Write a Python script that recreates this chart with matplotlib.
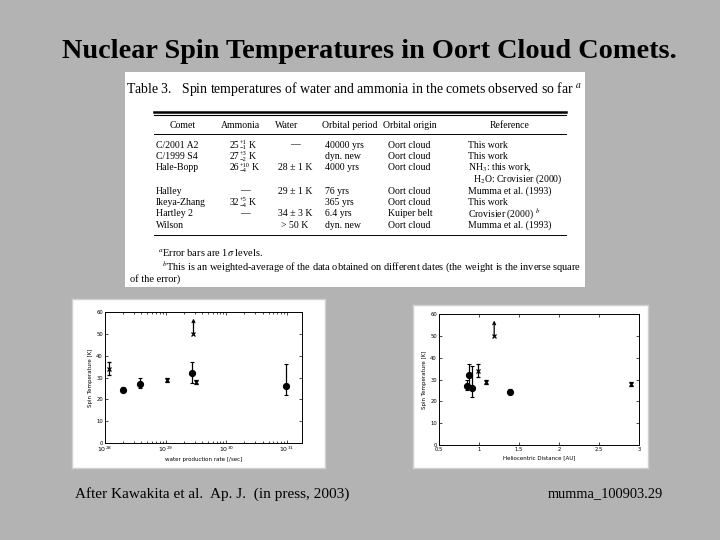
import numpy as np
import matplotlib
matplotlib.use("Agg")
import matplotlib.pyplot as plt

plt.rcParams["mathtext.fontset"] = "stix"

# ---- slide text ----
titulo = "Nuclear Spin Temperatures in Oort Cloud Comets."
rodape_esq = "After Kawakita et al.  Ap. J.  (in press, 2003)"
rodape_dir = "mumma_100903.29"

# ---- table 3 ----
tab_titulo = "Table 3.   Spin temperatures of water and ammonia in the comets observed so far $^a$"
colunas = ["Comet", "Ammonia", "Water", "Orbital period", "Orbital origin", "Reference"]
cometas = ["C/2001 A2", "C/1999 S4", "Hale-Bopp", "", "Halley", "Ikeya-Zhang", "Hartley 2", "Wilson"]
amonia = ["25", "27", "26", "", "—", "32", "—", ""]
amonia_sup = ["+1", "+3", "+10", "", "", "+5", "", ""]
amonia_sub = ["−1", "−2", "−4", "", "", "−4", "", ""]
agua = ["—", "", "28 ± 1 K", "", "29 ± 1 K", "", "34 ± 3 K", "> 50 K"]
periodo = ["40000 yrs", "dyn. new", "4000 yrs", "", "76 yrs", "365 yrs", "6.4 yrs", "dyn. new"]
origem = ["Oort cloud", "Oort cloud", "Oort cloud", "", "Oort cloud", "Oort cloud", "Kuiper belt", "Oort cloud"]
referencia = ["This work", "This work", "NH$_3$: this work,", "H$_2$O: Crovisier (2000)",
              "Mumma et al. (1993)", "This work", "Crovisier (2000) $^b$", "Mumma et al. (1993)"]
notas = ["$^a$Error bars are 1$\\sigma$ levels.",
         "$^b$This is an weighted-average of the data obtained on different dates (the weight is the inverse square",
         "of the error)"]

# ---- plots: ammonia (circles) ----
nh3_logQ = [28.29, 28.58, 29.44, 30.98]
nh3_r = [1.39, 0.846, 0.879, 0.908]
nh3_T = [24.5, 27, 32, 26]
nh3_up = [1.2, 3, 5, 10]
nh3_dn = [1.2, 2, 4.5, 4]

# ---- plots: water (stars) ----
h2o_logQ = [28.07, 29.02, 29.50]
h2o_r = [0.99, 1.09, 2.9]
h2o_T = [34, 29, 28]
h2o_err = [3, 1, 1]

# Wilson: lower limit
lim_logQ = 29.46
lim_r = 1.19
lim_T = 50
lim_topo = 57

W, H = 720, 540
cinza = "#b3b3b3"


def caixa(x0, y0, x1, y1):
    return [x0 / W, 1 - y1 / H, (x1 - x0) / W, (y1 - y0) / H]


fig = plt.figure(figsize=(7.2, 5.4), dpi=100, facecolor=cinza)
serif = ["Liberation Serif", "DejaVu Serif"]

fig.text(369 / W, 1 - 51 / H, titulo, ha="center", va="center", fontsize=20.3,
         fontweight="bold", family=serif)
fig.text(75 / W, 1 - 494 / H, rodape_esq, ha="left", va="center", fontsize=11, family=serif)
fig.text(548 / W, 1 - 494 / H, rodape_dir, ha="left", va="center", fontsize=10.4, family=serif)

# ---- table image ----
tb = fig.add_axes(caixa(125, 72, 585, 287), facecolor="white")
tb.set_xlim(125, 585)
tb.set_ylim(287, 72)
tb.set_xticks([])
tb.set_yticks([])
for s in tb.spines.values():
    s.set_visible(False)

tb.text(126, 89, tab_titulo, fontsize=9.9, family=serif, va="center", ha="left")
tb.plot([154, 566], [112, 112], color="black", lw=1.8)
tb.plot([154, 566], [115.5, 115.5], color="black", lw=0.8)
tb.plot([154, 566], [134, 134], color="black", lw=0.7)
tb.plot([154, 566], [235, 235], color="black", lw=0.7)

fs = 7
cab_x = [183, 240, 287, 350, 410, 510]
for cx, nome in zip(cab_x, colunas):
    tb.text(cx, 126, nome, fontsize=fs, family=serif, ha="center", va="center")

rend = fig.canvas.get_renderer()
inv = tb.transData.inverted()

y0, dy = 145, 11.5
for i in range(len(cometas)):
    yy = y0 + i * dy
    tb.text(156, yy, cometas[i], fontsize=fs, family=serif, ha="left", va="center")
    # ammonia: number with stacked super/subscript, then K
    if amonia_sup[i]:
        base = tb.text(230, yy, amonia[i], fontsize=fs, family=serif, ha="left", va="center")
        bx = inv.transform(base.get_window_extent(rend))[1][0]
        sp = tb.text(bx + 0.5, yy - 2.6, amonia_sup[i], fontsize=4.6, family=serif,
                     ha="left", va="center")
        sb = tb.text(bx + 0.5, yy + 2.9, amonia_sub[i], fontsize=4.6, family=serif,
                     ha="left", va="center")
        fim = max(inv.transform(sp.get_window_extent(rend))[1][0],
                  inv.transform(sb.get_window_extent(rend))[1][0])
        tb.text(fim + 1.5, yy, "K", fontsize=fs, family=serif, ha="left", va="center")
    elif amonia[i]:
        tb.text(245, yy, amonia[i], fontsize=fs, family=serif, ha="center", va="center")
    tb.text(295, yy, agua[i], fontsize=fs, family=serif, ha="center", va="center")
    tb.text(325, yy, periodo[i], fontsize=fs, family=serif, ha="left", va="center")
    tb.text(388, yy, origem[i], fontsize=fs, family=serif, ha="left", va="center")
    tb.text(468 if i != 3 else 473, yy, referencia[i], fontsize=fs, family=serif,
            ha="left", va="center")

tb.text(158, 253, notas[0], fontsize=7.5, family=serif, ha="left", va="center")
tb.text(162, 267, notas[1], fontsize=7.5, family=serif, ha="left", va="center")
tb.text(130, 279, notas[2], fontsize=7.5, family=serif, ha="left", va="center")

# ---- white panels behind the plots ----
for x0, yA, x1, yB in [(72, 299, 325, 468), (413, 305, 648, 468)]:
    p = fig.add_axes(caixa(x0, yA, x1, yB), facecolor="white")
    p.set_xticks([])
    p.set_yticks([])
    for s in p.spines.values():
        s.set_color("#d0d0d0")
        s.set_linewidth(1)


def estilo(ax):
    ax.tick_params(which="both", direction="in", top=True, right=True,
                   labelsize=3.8, length=2, width=0.5, pad=1.5)
    ax.tick_params(which="minor", length=1.2)
    for s in ax.spines.values():
        s.set_linewidth(0.7)
    ax.set_ylim(0, 60)
    ax.set_yticks(np.arange(0, 61, 10))
    ax.set_ylabel("Spin Temperature [K]", fontsize=4, labelpad=2)


# left: water production rate
a1 = fig.add_axes(caixa(105, 312, 302, 443))
a1.set_xscale("log")
Q_nh3 = 10 ** np.array(nh3_logQ)
Q_h2o = 10 ** np.array(h2o_logQ)
a1.errorbar(Q_nh3, nh3_T, yerr=[nh3_dn, nh3_up], fmt="o", color="black", ms=4.2,
            lw=0.9, capsize=1.2, capthick=0.8)
a1.errorbar(Q_h2o, h2o_T, yerr=h2o_err, fmt="x", color="black", ms=3, mew=0.9,
            lw=0.9, capsize=1.2, capthick=0.8)
a1.plot([10 ** lim_logQ], [lim_T], "x", color="black", ms=3, mew=0.9)
a1.annotate("", xy=(10 ** lim_logQ, lim_topo), xytext=(10 ** lim_logQ, lim_T),
            arrowprops=dict(arrowstyle="->", lw=0.9, color="black", shrinkA=0, shrinkB=0,
                            mutation_scale=5))
a1.set_xlim(1e28, 10 ** 31.25)
a1.set_xticks([1e28, 1e29, 1e30, 1e31])
a1.set_xticklabels(["$10^{28}$", "$10^{29}$", "$10^{30}$", "$10^{31}$"],
                   math_fontfamily="dejavusans")
a1.set_xlabel("water production rate [/sec]", fontsize=4, labelpad=2)
estilo(a1)
a1.tick_params(axis="x", labelsize=4.5)

# right: heliocentric distance
a2 = fig.add_axes(caixa(439, 314, 639, 445))
a2.errorbar(nh3_r, nh3_T, yerr=[nh3_dn, nh3_up], fmt="o", color="black", ms=4.2,
            lw=0.9, capsize=1.2, capthick=0.8)
a2.errorbar(h2o_r, h2o_T, yerr=h2o_err, fmt="x", color="black", ms=3, mew=0.9,
            lw=0.9, capsize=1.2, capthick=0.8)
a2.plot([lim_r], [lim_T], "x", color="black", ms=3, mew=0.9)
a2.annotate("", xy=(lim_r, lim_topo), xytext=(lim_r, lim_T),
            arrowprops=dict(arrowstyle="->", lw=0.9, color="black", shrinkA=0, shrinkB=0,
                            mutation_scale=5))
a2.set_xlim(0.5, 3)
a2.set_xticks([0.5, 1, 1.5, 2, 2.5, 3])
a2.set_xticklabels(["0.5", "1", "1.5", "2", "2.5", "3"])
a2.set_xlabel("Heliocentric Distance [AU]", fontsize=4, labelpad=2)
estilo(a2)

fig.savefig("out.png", dpi=100, facecolor=cinza)
